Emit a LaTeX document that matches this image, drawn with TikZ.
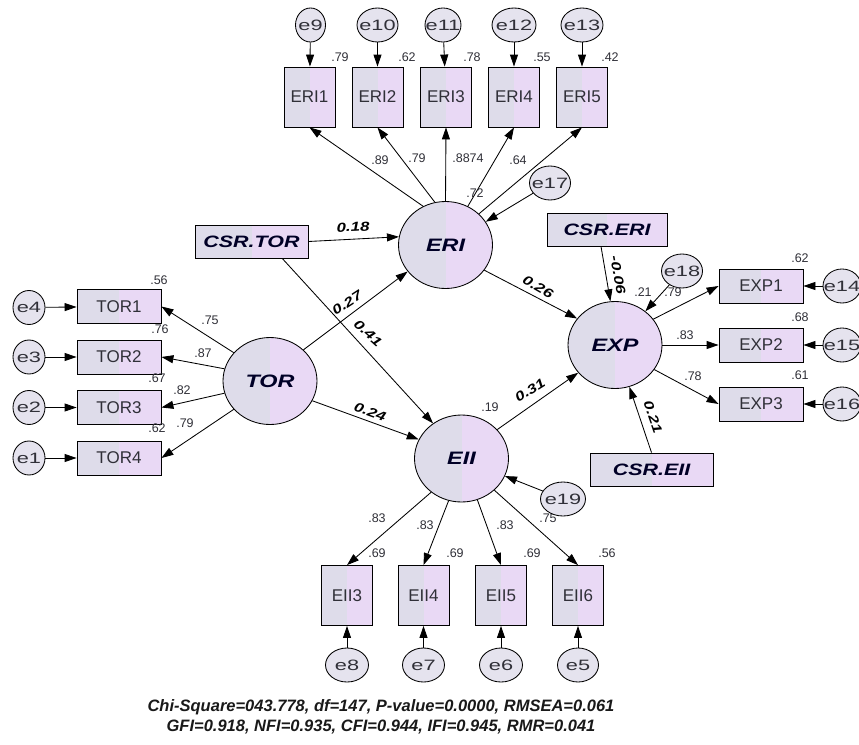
\documentclass[tikz,border=0pt]{standalone}
\usepackage{fontspec}
\setmainfont{Liberation Sans}
\newfontfamily\wfont{Liberation Sans}[FakeStretch=1.3]
\newfontfamily\efont{Liberation Sans}[FakeStretch=1.45]
\usetikzlibrary{arrows.meta,shapes.geometric,calc}
\definecolor{lavA}{HTML}{DEDCEA}
\definecolor{lavB}{HTML}{E9D9F5}
\definecolor{etxt}{HTML}{303038}
\newcommand\zw[1]{\makebox[0pt]{#1}}
\begin{document}
\begin{tikzpicture}[x=1pt,y=-1pt, line width=0.85pt,
  >={Triangle[length=12pt,width=8pt]},
  split/.style={path picture={
     \fill[lavA] (path picture bounding box.south west) rectangle (path picture bounding box.north);
     \fill[lavB] (path picture bounding box.south) rectangle (path picture bounding box.north east);}},
  obs/.style={draw, rectangle, split, inner sep=0pt, minimum width=84pt, minimum height=34pt,
     font=\fontsize{17}{19}\selectfont, text=etxt},
  obsv/.style={obs, minimum width=51pt, minimum height=60pt},
  lat/.style={draw, ellipse, split, inner sep=0pt, minimum width=94pt, minimum height=87pt,
     font=\wfont\bfseries\itshape\fontsize{18}{20}\selectfont, text=black!85!blue},
  err/.style={draw, ellipse, fill=lavA!80!white, inner sep=0pt, minimum width=#1, minimum height=34pt,
     font=\efont\fontsize{15}{17}\selectfont, text=etxt},
  err/.default=32pt,
  csr/.style={draw, rectangle, split, inner sep=0pt, minimum height=33pt,
     font=\wfont\bfseries\itshape\fontsize{16.5}{18}\selectfont, text=black!85!blue},
  num/.style={inner sep=0pt, font=\fontsize{12.5}{14}\selectfont, text=etxt},
  coef/.style={inner sep=0pt, font=\wfont\bfseries\itshape\fontsize{13}{15}\selectfont},
  fitline/.style={inner sep=0pt, font=\bfseries\itshape\fontsize{16.5}{18}\selectfont, text=black!90}
]
\useasboundingbox (0,0) rectangle (859,744);

% latent variables
\node[lat] (ERI) at (445.5,245) {ERI};
\node[lat] (TOR) at (270,381) {TOR};
\node[lat] (EXP) at (615,345) {EXP};
\node[lat] (EII) at (461.5,458.5) {EII};

% CSR boxes
\node[csr, minimum width=113pt] (CSRTOR) at (251.5,241.5) {CSR.TOR};
\node[csr, minimum width=120pt] (CSRERI) at (607,229.5) {CSR.ERI};
\node[csr, minimum width=123pt] (CSREII) at (651.5,469.5) {CSR.EII};

% ERI indicators
\node[obsv] (ERI1) at (309.5,97) {ERI1};
\node[obsv] (ERI2) at (377.5,97) {ERI2};
\node[obsv] (ERI3) at (446,97) {ERI3};
\node[obsv] (ERI4) at (514,97) {ERI4};
\node[obsv] (ERI5) at (582,97) {ERI5};
\node[err=30pt] (e9) at (310.5,25) {\zw{e9}};
\node[err=41pt] (e10) at (377.5,25) {\zw{e10}};
\node[err=36pt] (e11) at (443,25) {\zw{e11}};
\node[err=44pt] (e12) at (514,25) {\zw{e12}};
\node[err=42pt] (e13) at (582,25) {\zw{e13}};
\node[err=41pt] (e17) at (550,183) {\zw{e17}};

% TOR indicators
\node[obs] (TOR1) at (119,306.5) {TOR1};
\node[obs] (TOR2) at (119,357) {TOR2};
\node[obs] (TOR3) at (119,407.5) {TOR3};
\node[obs] (TOR4) at (119,458) {TOR4};
\node[err] (e4) at (29,307.5) {\zw{e4}};
\node[err] (e3) at (29,357) {\zw{e3}};
\node[err] (e2) at (29,407.5) {\zw{e2}};
\node[err] (e1) at (29,458) {\zw{e1}};

% EXP indicators
\node[obs] (EXP1) at (761,286) {EXP1};
\node[obs] (EXP2) at (761,345) {EXP2};
\node[obs] (EXP3) at (761,404) {EXP3};
\node[err=38pt] (e14) at (842,286) {\zw{e14}};
\node[err=38pt] (e15) at (842,345) {\zw{e15}};
\node[err=38pt] (e16) at (842,404) {\zw{e16}};
\node[err=41pt] (e18) at (682,271) {\zw{e18}};

% EII indicators
\node[obsv] (EII3) at (347,595.5) {EII3};
\node[obsv] (EII4) at (423.5,595.5) {EII4};
\node[obsv] (EII5) at (501,595.5) {EII5};
\node[obsv] (EII6) at (578,595.5) {EII6};
\node[err=43pt] (e8) at (347,665) {\zw{e8}};
\node[err=42pt] (e7) at (423.5,665) {\zw{e7}};
\node[err=43pt] (e6) at (501,665) {\zw{e6}};
\node[err=41pt] (e5) at (578,665) {\zw{e5}};
\node[num] (r16) at (548,518) {.75};
\node[err=45pt] (e19) at (563,499) {\zw{e19}};

% error arrows
\foreach \e/\o in {e9/ERI1,e10/ERI2,e11/ERI3,e12/ERI4,e13/ERI5,
                   e4/TOR1,e3/TOR2,e2/TOR3,e1/TOR4,
                   e14/EXP1,e15/EXP2,e16/EXP3,
                   e8/EII3,e7/EII4,e6/EII5,e5/EII6}
  \draw[->] (\e) -- (\o);
\draw[->] (e17) -- (ERI.30);
\draw[->] (e18) -- (EXP.48);
\draw[->] (e19) -- (EII.-22);

% loadings
\draw[->] (ERI.120) -- (ERI1.south);
\draw[->] (ERI.104) -- (ERI2.south);
\draw[->] (ERI.90) -- (ERI3.south);
\draw[->] (ERI.60) -- (ERI4.south);
\draw[->] (ERI.43) -- (ERI5.south);
\draw[->] (TOR.142) -- (TOR1.east);
\draw[->] (TOR.165) -- (TOR2.east);
\draw[->] (TOR.195) -- (TOR3.east);
\draw[->] (TOR.218) -- (TOR4.east);
\draw[->] (EXP.34) -- (EXP1.west);
\draw[->] (EXP.0) -- (EXP2.west);
\draw[->] (EXP.-32) -- (EXP3.west);
\draw[->] (EII.228) -- (EII3.north);
\draw[->] (EII.253) -- (EII4.north);
\draw[->] (EII.291) -- (EII5.north);
\draw[->] (EII.316) -- (EII6.north);

% structural paths
\draw[->] (CSRTOR.east) -- (ERI.170);
\draw[->] ($(CSRTOR.south)!0.54!(CSRTOR.south east)$) -- (EII.129);
\draw[->] (TOR.43) -- (ERI.215);
\draw[->] (TOR.-25) -- (EII.156);
\draw[->] (ERI.-33) -- (EXP.145);
\draw[->] (EII.39) -- (EXP.217);
\draw[->] ($(CSRERI.south)+(-6,0)$) -- (EXP.96);
\draw[->] (CSREII.north) -- (EXP.-71);

% numbers
\node[num] (r1) at (340,57) {.79};
\node[num] (r2) at (407,57) {.62};
\node[num] (r3) at (472,57) {.78};
\node[num] (r4) at (542,57) {.55};
\node[num] (r5) at (610,57) {.42};
\node[num] (l1) at (380,160) {.89};
\node[num] (l2) at (417,158) {.79};
\node[num] (l3) at (468,158) {.8874};
\node[num] (l4) at (518,160) {.64};
\node[num] (r6) at (475,193) {.72};
\node[num] (r7) at (159,280) {.56};
\node[num] (r8) at (160,329) {.76};
\node[num] (r9) at (157,378) {.67};
\node[num] (r10) at (157,428) {.62};
\node[num] (l5) at (210,320) {.75};
\node[num] (l6) at (203,353) {.87};
\node[num] (l7) at (182,390) {.82};
\node[num] (l8) at (185,423) {.79};
\node[num] (r11) at (800,258) {.62};
\node[num] (r12) at (800,317) {.68};
\node[num] (r13) at (800,375) {.61};
\node[num] (r14) at (643,292) {.21};
\node[num] (l9) at (673,292) {.79};
\node[num] (l10) at (685,335) {.83};
\node[num] (l11) at (693,376) {.78};
\node[num] (r15) at (490,407) {.19};
\node[num] (l12) at (377,518) {.83};
\node[num] (l13) at (425,525) {.83};
\node[num] (l14) at (505,525) {.83};
\node[num] (r17) at (377,553) {.69};
\node[num] (r18) at (455,553) {.69};
\node[num] (r19) at (532,553) {.69};
\node[num] (r20) at (607,553) {.56};

% path coefficients
\node[coef, rotate=3] (c1) at (353,227) {0.18};
\node[coef, rotate=33] (c2) at (347,303) {0.27};
\node[coef, rotate=-42] (c3) at (368,333) {0.41};
\node[coef, rotate=-20] (c4) at (370,412) {0.24};
\node[coef, rotate=-30] (c5) at (538,287) {0.26};
\node[coef, rotate=32] (c6) at (530,390) {0.31};
\node[coef, rotate=-80] (c7) at (618,275) {-0.06};
\node[coef, rotate=-71] (c8) at (653,417) {0.21};

% fit indices
\node[fitline] (fit1) at (381,707) {Chi-Square=043.778, df=147, P-value=0.0000, RMSEA=0.061};
\node[fitline] (fit2) at (381,727) {GFI=0.918, NFI=0.935, CFI=0.944, IFI=0.945, RMR=0.041};
\end{tikzpicture}
\end{document}
